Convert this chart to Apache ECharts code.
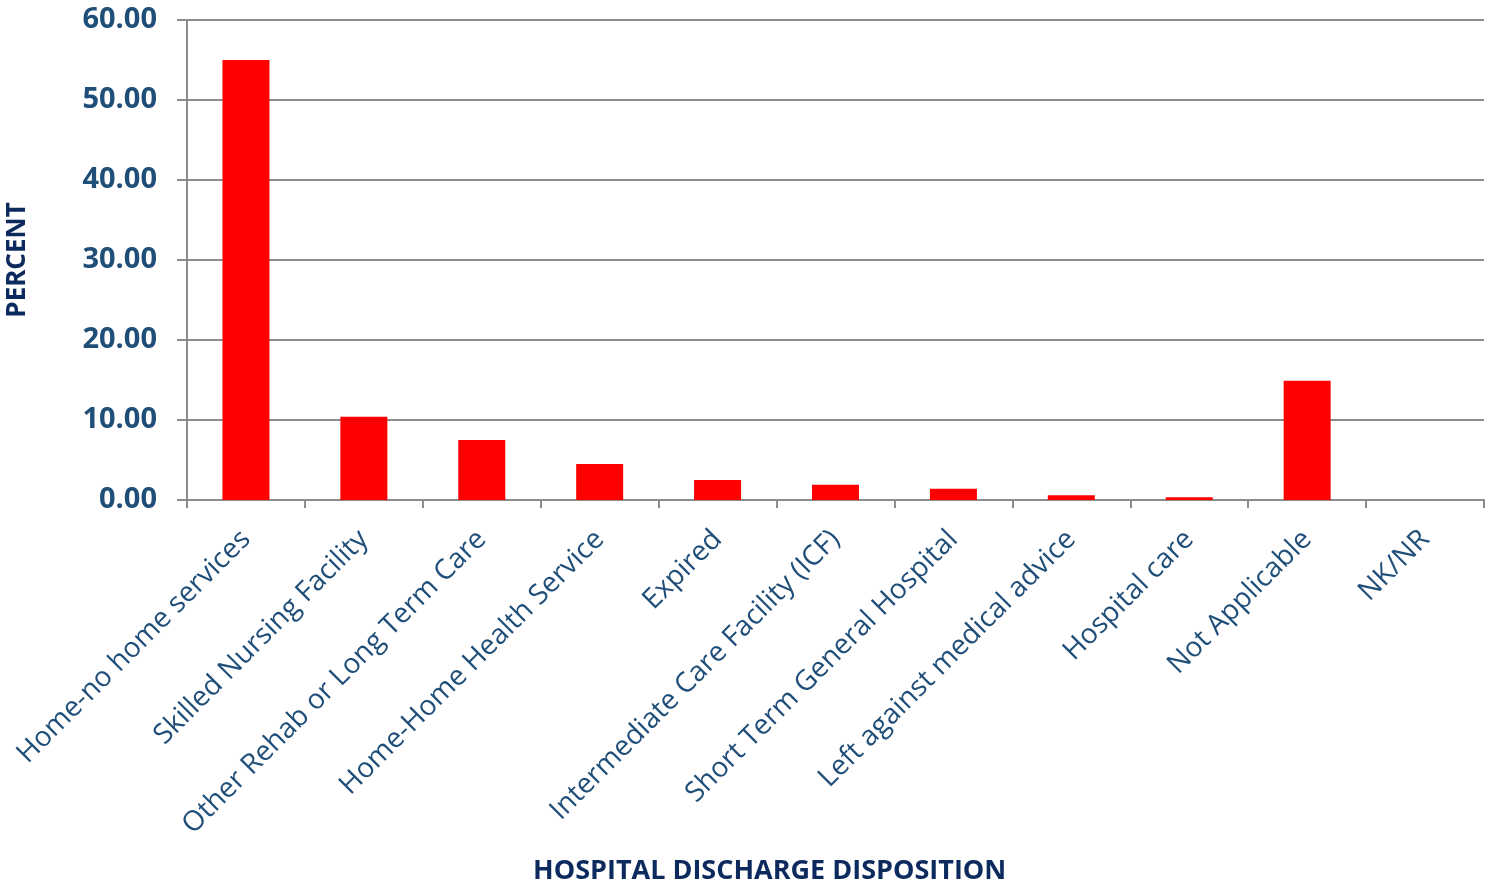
<!DOCTYPE html>
<html>
<head>
<meta charset="utf-8">
<script src="https://cdn.jsdelivr.net/npm/echarts@6/dist/echarts.min.js"></script>
<style>html,body{margin:0;padding:0;background:#fff}#c{width:1489px;height:887px}</style>
</head>
<body>
<div id="c"></div>
<script>
const categories = ["Home-no home services","Skilled Nursing Facility","Other Rehab or Long Term Care","Home-Home Health Service","Expired","Intermediate Care Facility (ICF)","Short Term General Hospital","Left against medical advice","Hospital care","Not Applicable","NK/NR"];
const percentValues = [55.0, 10.4, 7.5, 4.5, 2.5, 1.9, 1.4, 0.6, 0.35, 14.9, 0];
const yTicks = {min: 0, max: 60, interval: 10};
const xTitle = "HOSPITAL DISCHARGE DISPOSITION";
const yTitle = "PERCENT";

const chart = echarts.init(document.getElementById('c'), null, {renderer: 'canvas'});
const gray = '#8c8c8c';
chart.setOption({
  animation: false,
  backgroundColor: '#ffffff',
  grid: {left: 187, right: 5, top: 20, bottom: 387, containLabel: false, outerBoundsMode: 'none'},
  xAxis: {
    type: 'category',
    data: categories,
    boundaryGap: true,
    axisLine: {lineStyle: {color: gray, width: 2}},
    axisTick: {show: true, length: 8, lineStyle: {color: gray, width: 2}, alignWithLabel: false},
    axisLabel: {rotate: 45, interval: 0, margin: 35, color: '#1f4e79', fontFamily: 'Open Sans', fontSize: 28}
  },
  yAxis: {
    type: 'value',
    min: yTicks.min, max: yTicks.max, interval: yTicks.interval,
    name: yTitle, nameLocation: 'middle', nameGap: 156, nameRotate: 90,
    nameTextStyle: {color: '#0d2a5e', fontFamily: 'Open Sans', fontWeight: 'bold', fontSize: 26},
    axisLine: {show: true, lineStyle: {color: gray, width: 2}},
    axisTick: {show: true, length: 10, lineStyle: {color: gray, width: 2}},
    splitLine: {show: true, lineStyle: {color: gray, width: 2}},
    axisLabel: {margin: 30, color: '#1f4e79', fontFamily: 'Open Sans', fontWeight: 'bold', fontSize: 29,
      formatter: v => v.toFixed(2)}
  },
  graphic: [{
    type: 'text', left: 533, top: 858,
    style: {text: xTitle, fill: '#0d2a5e', font: 'bold 27px "Open Sans"'}
  }],
  series: [{
    type: 'bar',
    data: percentValues,
    barWidth: 47,
    itemStyle: {color: '#ff0000'}
  }]
});
</script>
</body>
</html>
